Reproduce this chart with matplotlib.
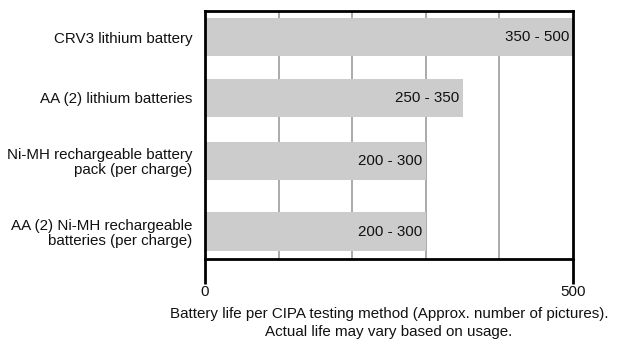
import matplotlib
matplotlib.use("Agg")
import matplotlib.pyplot as plt

categories = [
    "CRV3 lithium battery",
    "AA (2) lithium batteries",
    "Ni-MH rechargeable battery\npack (per charge)",
    "AA (2) Ni-MH rechargeable\nbatteries (per charge)",
]
life_low = [350, 250, 200, 200]
life_high = [500, 350, 300, 300]
x_ticks = [0, 500]
grid_values = [100, 200, 300, 400]
xlabel = ("Battery life per CIPA testing method (Approx. number of pictures).\n"
          "Actual life may vary based on usage.")

plt.rcParams["font.family"] = ["Liberation Sans", "DejaVu Sans"]
FS = 10.9
TXT = "#111111"

fig = plt.figure(figsize=(6.19, 3.44), dpi=100)
ax = fig.add_axes([205 / 619, 1 - 258.5 / 344, 368 / 619, 247.5 / 344])

# row centres measured from the top of the frame
row_pos = [26.2, 86.8, 149.8, 220.7]
bar_h = 38.5

ax.set_xlim(0, 500)
ax.set_ylim(247.5, 0)

for g in grid_values:
    ax.axvline(g, color="#aaaaaa", lw=1.4, zorder=0)

ax.barh(row_pos, life_high, height=bar_h, color="#cccccc", zorder=1)

for y, lo, hi in zip(row_pos, life_low, life_high):
    ax.text(hi - 5, y, f"{lo} - {hi}", ha="right", va="center",
            fontsize=FS, color=TXT, zorder=3)

ax.set_yticks(row_pos)
ax.set_yticklabels(categories, fontsize=FS, color=TXT, linespacing=1.1)
ax.tick_params(axis="y", length=0, pad=9)

ax.set_xticks(x_ticks)
ax.set_xticklabels([str(t) for t in x_ticks], fontsize=FS, color=TXT)
ax.tick_params(axis="x", direction="out", length=18, width=2, color="black", pad=1)

ax.set_xlabel(xlabel, fontsize=FS, color=TXT, labelpad=6, linespacing=1.3)

for s in ax.spines.values():
    s.set_linewidth(2)
    s.set_color("black")

fig.savefig("out.png", dpi=100)
